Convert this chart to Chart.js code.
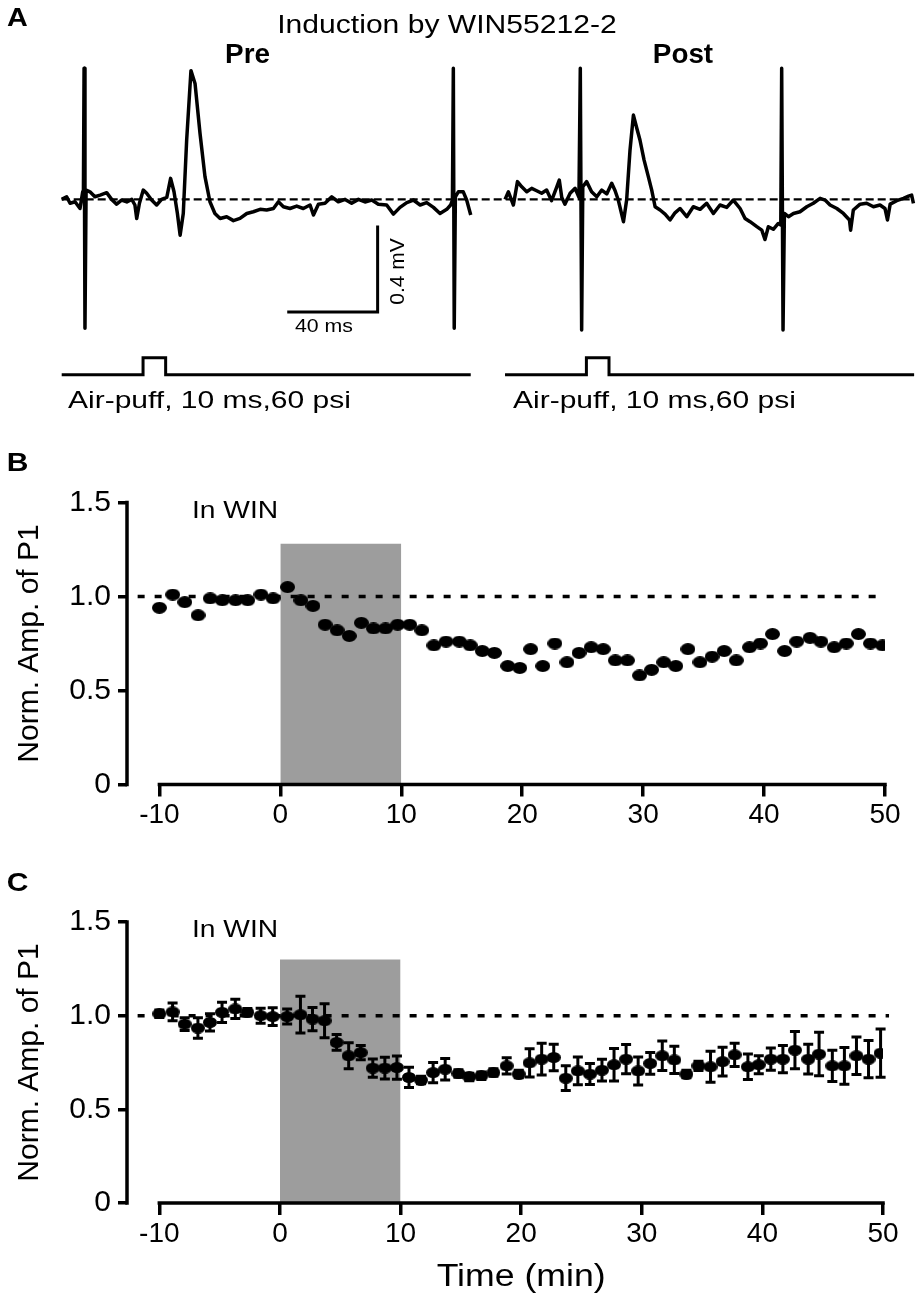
<!DOCTYPE html>
<html>
<head>
<meta charset="utf-8">
<script src="https://cdn.jsdelivr.net/npm/chart.js@4.4.1/dist/chart.umd.min.js"></script>
<style>
  body { margin: 0; background: #fff; }
  #wrap { position: relative; width: 920px; height: 1300px; }
  canvas { position: absolute; left: 0; }
</style>
</head>
<body>
<div id="wrap">
  <canvas id="chA" width="920" height="420" style="top:0;width:920px;height:420px"></canvas>
  <canvas id="chB" width="920" height="400" style="top:440px;width:920px;height:400px"></canvas>
  <canvas id="chC" width="920" height="440" style="top:860px;width:920px;height:440px"></canvas>
</div>
<script>
const FONT = '"Liberation Sans", Arial, Helvetica, sans-serif';

// Panel A: field potential sweeps (time in ms, voltage in mV)
const preT = [0,2.2,3.7,5.9,8.1,9.3,9.6,9.9,10.3,10.8,12.5,14.7,17.0,19.9,22.1,24.3,26.5,28.8,31.0,32.4,33.2,34.4,36.1,37.6,39.8,42.0,44.2,46.5,48.2,49.7,51.2,52.4,53.8,55.3,57.2,59.0,61.2,63.4,65.6,67.8,70.1,73.0,76.0,78.9,81.9,84.8,87.8,90.7,93.7,95.9,98.1,101.0,104.0,106.9,109.9,111.4,113.6,116.5,119.5,122.4,125.4,128.3,131.3,134.2,137.2,140.1,143.8,146.8,149.7,152.7,155.6,158.6,161.5,164.5,167.4,170.4,172.1,172.9,173.3,173.7,174.2,175.5,177.7,179.2,181.0];
const preV = [0,0.012,-0.018,-0.011,-0.042,0.035,0,0.605,-0.595,0.043,0.035,0.012,0.02,0.031,0,-0.022,-0.003,-0.012,0,-0.026,-0.088,-0.018,0.043,0.028,-0.003,-0.026,0,0.009,0.097,0.035,-0.065,-0.165,-0.065,0.274,0.594,0.535,0.305,0.105,-0.011,-0.065,-0.088,-0.08,-0.098,-0.088,-0.065,-0.057,-0.046,-0.049,-0.042,-0.011,-0.034,-0.042,-0.031,-0.042,-0.026,-0.072,-0.022,-0.018,0.012,-0.011,0,-0.018,0,-0.012,-0.003,-0.022,-0.026,-0.068,-0.037,-0.015,-0.003,-0.026,-0.015,-0.037,-0.065,-0.046,-0.026,-0.003,0.605,-0.595,0.012,0.035,0.035,-0.003,-0.072];
const postT = [0,1.5,3.7,5.5,7.4,9.6,11.8,14.0,16.2,18.4,20.6,22.9,24.0,25.1,26.5,28.8,31.0,32.7,33.3,33.9,34.4,36.1,38.3,40.6,42.8,45.0,47.2,48.7,50.1,52.4,53.8,55.3,56.8,58.3,59.7,61.5,63.4,64.9,66.4,68.6,70.8,73.0,75.2,77.4,80.4,83.3,86.3,89.2,92.2,95.1,98.1,101.0,104.0,106.2,108.4,111.4,113.6,115.0,116.5,118.7,120.9,122.0,122.4,123.0,123.6,125.4,127.6,130.5,133.5,136.4,139.4,141.6,143.8,146.8,149.7,152.4,152.9,154.1,157.1,160.0,163.0,165.9,168.1,169.2,170.4,173.3,176.3,178.5,179.9,180.7];
const postV = [0,0.035,-0.026,0.082,0.058,0.035,0.051,0.04,0.028,0.043,-0.006,0.058,0.089,0.009,-0.022,0.028,0.051,0.009,0.605,-0.603,0.058,0.082,0.035,0.012,0.043,0.025,0.074,0.04,-0.003,-0.103,-0.003,0.228,0.389,0.328,0.274,0.182,0.105,0.043,-0.034,-0.049,-0.068,-0.095,-0.062,-0.042,-0.08,-0.034,-0.046,-0.018,-0.065,-0.026,-0.037,-0.003,-0.042,-0.088,-0.103,-0.126,-0.142,-0.185,-0.126,-0.138,-0.111,-0.118,0.605,-0.603,-0.065,-0.08,-0.065,-0.057,-0.034,-0.018,0.005,-0.003,-0.026,-0.042,-0.065,-0.095,-0.142,-0.049,-0.022,-0.018,-0.034,-0.026,-0.042,-0.095,-0.022,-0.006,0.005,0.015,0.02,-0.018];
const puffT = [0, 36, 36, 46, 46, 181];
const puffLevel = [0, 0, 1, 1, 0, 0];
const baselineT = [0, 376.7];
const scaleBarT = [99.8, 139.8, 139.8];
const scaleBarV = [-0.52, -0.52, -0.12];

// Panels B and C: normalized P1 amplitude over time (min)
const times = [-10.0,-8.9,-7.9,-6.8,-5.8,-4.8,-3.7,-2.7,-1.6,-0.6,
  0.6,1.7,2.7,3.7,4.7,5.7,6.7,7.7,8.7,9.7,
  10.7,11.7,12.7,13.7,14.8,15.7,16.7,17.7,18.8,19.8,
  20.7,21.7,22.7,23.7,24.7,25.7,26.7,27.7,28.7,29.7,
  30.7,31.7,32.7,33.7,34.7,35.7,36.7,37.7,38.8,39.7,
  40.7,41.7,42.7,43.8,44.7,45.8,46.8,47.8,48.8,49.8];
const ampB = [0.94,1.01,0.97,0.90,0.99,0.98,0.98,0.98,1.01,0.99,
  1.05,0.98,0.95,0.85,0.82,0.79,0.86,0.83,0.83,0.85,
  0.85,0.82,0.74,0.76,0.76,0.74,0.71,0.70,0.63,0.62,
  0.72,0.63,0.75,0.65,0.70,0.73,0.72,0.66,0.66,0.58,
  0.61,0.65,0.63,0.72,0.65,0.68,0.71,0.66,0.73,0.75,
  0.80,0.71,0.76,0.78,0.76,0.73,0.75,0.80,0.75,0.74];
const ampC = [1.01,1.02,0.955,0.934,0.964,1.018,1.036,1.018,1.0,0.995,
  0.995,1.005,0.982,0.973,0.857,0.786,0.803,0.72,0.72,0.723,
  0.67,0.656,0.696,0.714,0.691,0.673,0.679,0.696,0.732,0.688,
  0.748,0.768,0.777,0.666,0.705,0.688,0.709,0.738,0.768,0.705,
  0.745,0.786,0.764,0.688,0.732,0.727,0.755,0.791,0.727,0.738,
  0.768,0.768,0.816,0.768,0.795,0.732,0.732,0.786,0.768,0.80];
const semC = [0.02,0.047,0.034,0.055,0.046,0.054,0.051,0.02,0.04,0.047,
  0.04,0.098,0.062,0.091,0.042,0.069,0.038,0.049,0.058,0.062,
  0.054,0.02,0.054,0.058,0.02,0.02,0.02,0.02,0.043,0.02,
  0.076,0.085,0.071,0.066,0.074,0.056,0.058,0.087,0.078,0.075,
  0.058,0.079,0.073,0.02,0.025,0.083,0.077,0.062,0.068,0.048,
  0.06,0.073,0.10,0.08,0.116,0.083,0.098,0.10,0.10,0.129];
const winPeriod = [0, 10];
const xTicks = [-10, 0, 10, 20, 30, 40, 50];
const yTicks = [0, 0.5, 1.0, 1.5];

function pts(xs, ys) {
  return xs.map((x, i) => ({ x: x, y: ys[i] }));
}

function trace(data, extra) {
  return Object.assign({ data: data, borderColor: '#000', borderWidth: 3.5, pointRadius: 0, fill: false, tension: 0, borderJoinStyle: 'round' }, extra);
}

function label(ctx, text, x, y, size, bold, sx, align, rot) {
  ctx.save();
  ctx.translate(x, y);
  if (rot) ctx.rotate(rot);
  ctx.scale(sx, 1);
  ctx.font = (bold ? 'bold ' : '') + size + 'px ' + FONT;
  ctx.fillStyle = '#000';
  ctx.textAlign = align || 'center';
  ctx.textBaseline = 'middle';
  ctx.fillText(text, 0, 0);
  ctx.restore();
}

function marker(w, h) {
  const c = document.createElement('canvas');
  c.width = w; c.height = h;
  const g = c.getContext('2d');
  g.fillStyle = '#000';
  g.beginPath();
  g.ellipse(w / 2, h / 2, w / 2, h / 2, 0, 0, Math.PI * 2);
  g.fill();
  return c;
}

// ---------- Panel A ----------
const textA = {
  id: 'textA',
  afterDraw(chart) {
    const ctx = chart.ctx;
    label(ctx, 'A', 17.5, 19, 25, true, 1.15);
    label(ctx, 'Induction by WIN55212-2', 447, 26, 25.5, false, 1.18);
    label(ctx, 'Pre', 247.5, 56, 27, true, 1.03);
    label(ctx, 'Post', 683, 56, 27, true, 1.03);
    label(ctx, '40 ms', 324, 327, 19, false, 1.12);
    label(ctx, '0.4 mV', 398, 271.5, 21, false, 1, 'center', -Math.PI / 2);
    label(ctx, 'Air-puff, 10 ms,60 psi', 68, 401, 24, false, 1.25, 'left');
    label(ctx, 'Air-puff, 10 ms,60 psi', 513, 401, 24, false, 1.25, 'left');
  }
};

new Chart(document.getElementById('chA'), {
  type: 'line',
  data: {
    datasets: [
      trace(pts(preT, preV), { xAxisID: 'x', yAxisID: 'y' }),
      trace(pts(postT, postV), { xAxisID: 'xPost', yAxisID: 'y' }),
      trace(pts(baselineT, [0, 0]), { xAxisID: 'x', yAxisID: 'y', borderWidth: 2.2, borderDash: [8, 4] }),
      trace(pts(puffT, puffLevel), { xAxisID: 'x', yAxisID: 'yPuff', borderWidth: 3, borderJoinStyle: 'miter' }),
      trace(pts(puffT, puffLevel), { xAxisID: 'xPost', yAxisID: 'yPuff', borderWidth: 3, borderJoinStyle: 'miter' }),
      trace(pts(scaleBarT, scaleBarV), { xAxisID: 'x', yAxisID: 'y', borderWidth: 3, borderJoinStyle: 'miter' })
    ]
  },
  options: {
    responsive: false,
    animation: false,
    events: [],
    layout: { padding: 0 },
    plugins: { legend: { display: false }, tooltip: { enabled: false } },
    scales: {
      x: { type: 'linear', display: false, min: -27.3, max: 379.8 },
      xPost: { type: 'linear', display: false, min: -223.45, max: 183.6 },
      y: { type: 'linear', display: false, min: -1.018, max: 0.92 },
      yPuff: { type: 'linear', display: false, min: -2.665, max: 22.04 }
    }
  },
  plugins: [textA]
});

// ---------- Panels B and C ----------
const axisLines = {
  id: 'axisLines',
  afterDraw(chart) {
    const { ctx, scales: { x, y } } = chart;
    ctx.save();
    ctx.strokeStyle = '#000';
    ctx.lineWidth = 3.5;
    ctx.lineCap = 'square';
    ctx.beginPath();
    ctx.moveTo(x.left, y.getPixelForValue(yTicks[yTicks.length - 1]));
    ctx.lineTo(x.left, y.getPixelForValue(yTicks[0]));
    ctx.moveTo(x.getPixelForValue(xTicks[0]), y.bottom);
    ctx.lineTo(x.getPixelForValue(xTicks[xTicks.length - 1]), y.bottom);
    ctx.stroke();
    ctx.restore();
  }
};

const errorBars = {
  id: 'errorBars',
  afterDatasetsDraw(chart) {
    const { ctx, scales: { x, y } } = chart;
    ctx.save();
    ctx.strokeStyle = '#000';
    ctx.lineWidth = 3;
    times.forEach((t, i) => {
      const px = x.getPixelForValue(t);
      const top = y.getPixelForValue(ampC[i] + semC[i]);
      const bot = y.getPixelForValue(ampC[i] - semC[i]);
      ctx.beginPath();
      ctx.moveTo(px, top); ctx.lineTo(px, bot);
      ctx.moveTo(px - 5, top); ctx.lineTo(px + 5, top);
      ctx.moveTo(px - 5, bot); ctx.lineTo(px + 5, bot);
      ctx.stroke();
    });
    ctx.restore();
  }
};

function panelText(letter, withTime) {
  return {
    id: 'text' + letter,
    afterDraw(chart) {
      const ctx = chart.ctx;
      const x = chart.scales.x;
      label(ctx, letter, 17.5, 24, 25, true, 1.2);
      label(ctx, 'In WIN', 235, chart.chartArea.top + 9, 23.5, false, 1.2);
      if (withTime) {
        const cx = (x.getPixelForValue(xTicks[0]) + x.getPixelForValue(xTicks[xTicks.length - 1])) / 2;
        label(ctx, 'Time (min)', cx, 417, 31, false, 1.15);
      }
    }
  };
}

function timeChart(id, cfg) {
  const datasets = [
    { data: pts(times, cfg.amp), showLine: false, pointStyle: marker(cfg.mw, cfg.mh), pointRadius: 7, order: 0 },
    { data: pts(cfg.dashT, [1, 1]), borderColor: '#000', borderWidth: 3.5, borderDash: [7, 10], pointRadius: 0, fill: false, clip: false, order: 1 },
    { data: pts(winPeriod, [cfg.shadeTop, cfg.shadeTop]), borderWidth: 0, pointRadius: 0, fill: 'origin', backgroundColor: '#9d9d9d', order: 2 }
  ];
  const tickGrid = (len) => ({ drawOnChartArea: false, color: '#000', lineWidth: 3.5, tickLength: len, tickWidth: 3.5, tickColor: '#000' });
  return new Chart(document.getElementById(id), {
    type: 'line',
    data: { datasets: datasets },
    options: {
      responsive: false,
      animation: false,
      events: [],
      layout: { padding: { top: cfg.top, right: cfg.right, left: 0, bottom: 0 } },
      plugins: { legend: { display: false }, tooltip: { enabled: false } },
      scales: {
        x: {
          type: 'linear', min: -12.68, max: 50,
          afterBuildTicks: s => { s.ticks = xTicks.map(v => ({ value: v })); },
          afterFit: s => { s.height = cfg.xh; },
          border: { display: false },
          grid: tickGrid(12),
          ticks: { color: '#000', font: { family: FONT, size: 28 }, padding: 2, maxRotation: 0, autoSkip: false, callback: v => String(v) }
        },
        y: {
          type: 'linear', min: 0, max: 1.5,
          afterBuildTicks: s => { s.ticks = yTicks.map(v => ({ value: v })); },
          afterFit: s => { s.width = 127; },
          border: { display: false },
          grid: tickGrid(9),
          ticks: { color: '#000', font: { family: FONT, size: 30 }, padding: 7, callback: v => (v === 0 ? '0' : v.toFixed(1)) },
          title: { display: true, text: 'Norm. Amp. of P1', color: '#000', font: { family: FONT, size: 30 }, padding: { top: 12, bottom: 0 } }
        }
      }
    },
    plugins: cfg.plugins
  });
}

timeChart('chB', {
  amp: ampB, mw: 15, mh: 12, dashT: [-11.8, 49.3], shadeTop: 1.28,
  top: 62.5, right: 35, xh: 55.5,
  plugins: [axisLines, panelText('B', false)]
});

timeChart('chC', {
  amp: ampC, mw: 14, mh: 11, dashT: [-11.8, 50.5], shadeTop: 1.30,
  top: 62, right: 37, xh: 97,
  plugins: [axisLines, errorBars, panelText('C', true)]
});
</script>
</body>
</html>
